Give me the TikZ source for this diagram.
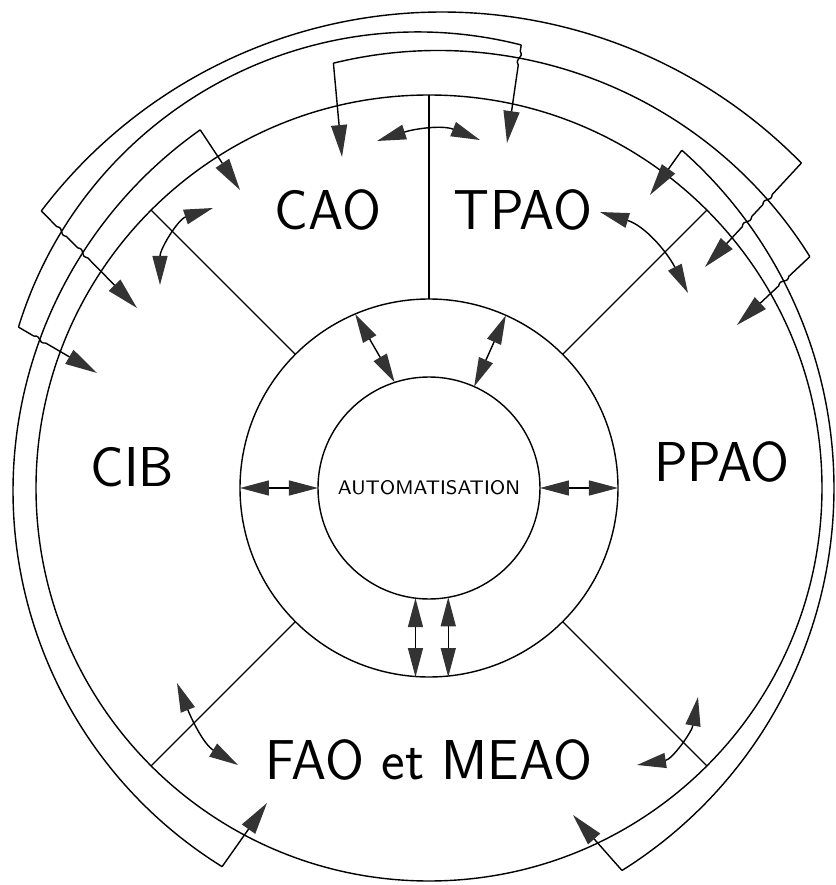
\documentclass[tikz,border=0pt]{standalone}
\usepackage{fontspec}
\usetikzlibrary{arrows.meta,calc,intersections}

\newcommand{\brkwig}[2]{-- ($(#1)!0.7mm!180:(#2)$) .. controls ($(#1)!0.5mm!90:(#2)$) and ($(#1)!0.5mm!-90:(#2)$) .. ($(#1)!0.7mm!(#2)$)}

\begin{document}
\begin{tikzpicture}[
x=0.1mm,
y=0.1mm,
line width=0.4pt,
every node/.style={
inner sep=0pt
},
zone/.style={
circle,
draw,
outer sep=0pt,
minimum size=#1
},
sector/.style={
font=\fontsize{16}{19}\selectfont\sffamily
},
tip/.style={
-{Triangle[length=3.2mm,width=1.6mm,color=black!80]}
},
dbl/.style={
{Triangle[length=2.9mm,width=1.5mm,color=black!80]}-{Triangle[length=2.9mm,width=1.5mm,color=black!80]}
}
]

\useasboundingbox (-429,-397) rectangle (406,488);

\node[zone=78.6mm] (main) at (0,0) {};
\node[zone=37.8mm] (ring) at (0,0) {};
\node[zone=22.2mm, font=\fontsize{5.6}{7}\selectfont\sffamily] (auto) at (0,0)
{AUTOMATISATION};

\foreach \a in {45,90,135,225,315}
\draw (ring.\a) -- (main.\a);

\node[sector] (cao) at (-101,278) {CAO};
\node[sector] (tpao) at (94,278) {TPAO};
\node[sector] (cib) at (-297,21) {CIB};
\node[sector] (ppao) at (293,26) {PPAO};
\node[sector] (fao) at (0,-272) {FAO et MEAO};

\draw[dbl] (auto.180) -- (ring.180);
\draw[dbl] (auto.0) -- (ring.0);
\draw[dbl] (auto.108) -- (ring.113.5);
\draw[dbl] (auto.66.5) -- (ring.66.5);
\draw[dbl] (auto.263.3) -- (auto.263.3 |- ring.south);
\draw[dbl] (auto.280.4) -- (auto.280.4 |- ring.south);

\coordinate (ca1) at (-216,280);
\coordinate (ca2) at (-269,203);
\coordinate (ct1) at (-52,347);
\coordinate (ct2) at (51,348);
\coordinate (tp1) at (171,276);
\coordinate (tp2) at (259,195);
\coordinate (pf1) at (269,-209);
\coordinate (pf2) at (208,-277);
\coordinate (cf1) at (-252,-195);
\coordinate (cf2) at (-191,-277);

\draw[dbl] (ca1) to[out=198,in=90] (ca2);
\draw[dbl] (ct1) to[out=18,in=158] (ct2);
\draw[dbl] (tp1) to[out=-17,in=117] (tp2);
\draw[dbl] (pf1) to[out=260,in=9] (pf2);
\draw[dbl] (cf1) to[out=292,in=149] (cf2);

\coordinate (o1) at (13,-27);
\coordinate (o2) at (-11,38);
\coordinate (o3) at (9,-1);
\coordinate (o4) at (26,-3);
\coordinate (o5) at (-46,0);

\draw[name path=arcx] (o1) ++(142.8:503) coordinate (xl)
arc[start angle=142.8, end angle=44.4, radius=503] coordinate (xr);
\draw[name path=arcb] (o2) ++(162.9:418) coordinate (bl)
arc[start angle=162.9, end angle=75.7, radius=418] coordinate (br);
\draw[name path=arct] (o3) ++(103.8:438.5) coordinate (tl)
arc[start angle=103.8, end angle=32, radius=438.5] coordinate (tr);
\draw[name path=arcz] (o4) ++(125.2:442) coordinate (zt)
arc[start angle=125.2, end angle=238.2, radius=442] coordinate (zb);
\draw[name path=arcw] (o5) ++(48.5:451) coordinate (wt)
arc[start angle=48.5, end angle=-58, radius=451] coordinate (wb);

\coordinate (t1l) at (-292,180);
\coordinate (t2l) at (-332,115);
\coordinate (tzt) at (-189,298);
\coordinate (tzb) at (-162,-315);
\coordinate (ttl) at (-87,331);
\coordinate (ttr) at (78,345);
\coordinate (t1r) at (276,221);
\coordinate (t2r) at (308,163);
\coordinate (twt) at (221,293);
\coordinate (twb) at (144,-327);

\path[name path=j1l] (xl) -- (t1l);
\path[name intersections={of=j1l and arcb, by=k1}];
\path[name intersections={of=j1l and arcz, by=k2}];
\path[name path=j2l] (bl) -- (t2l);
\path[name intersections={of=j2l and arcz, by=k3}];
\path[name path=jtr] (br) -- (ttr);
\path[name intersections={of=jtr and arct, by=k4}];
\path[name path=j1r] (xr) -- (t1r);
\path[name intersections={of=j1r and arct, by=k5}];
\path[name intersections={of=j1r and arcw, by=k6}];
\path[name path=j2r] (tr) -- (t2r);
\path[name intersections={of=j2r and arcw, by=k7}];

\draw[tip] (xl) \brkwig{k1}{t1l} \brkwig{k2}{t1l} -- (t1l);
\draw[tip] (bl) \brkwig{k3}{t2l} -- (t2l);
\draw[tip] (zt) -- (tzt);
\draw[tip] (zb) -- (tzb);
\draw[tip] (tl) -- (ttl);
\draw[tip] (br) \brkwig{k4}{ttr} -- (ttr);
\draw[tip] (xr) \brkwig{k5}{t1r} \brkwig{k6}{t1r} -- (t1r);
\draw[tip] (tr) \brkwig{k7}{t2r} -- (t2r);
\draw[tip] (wt) -- (twt);
\draw[tip] (wb) -- (twb);

\end{tikzpicture}
\end{document}
